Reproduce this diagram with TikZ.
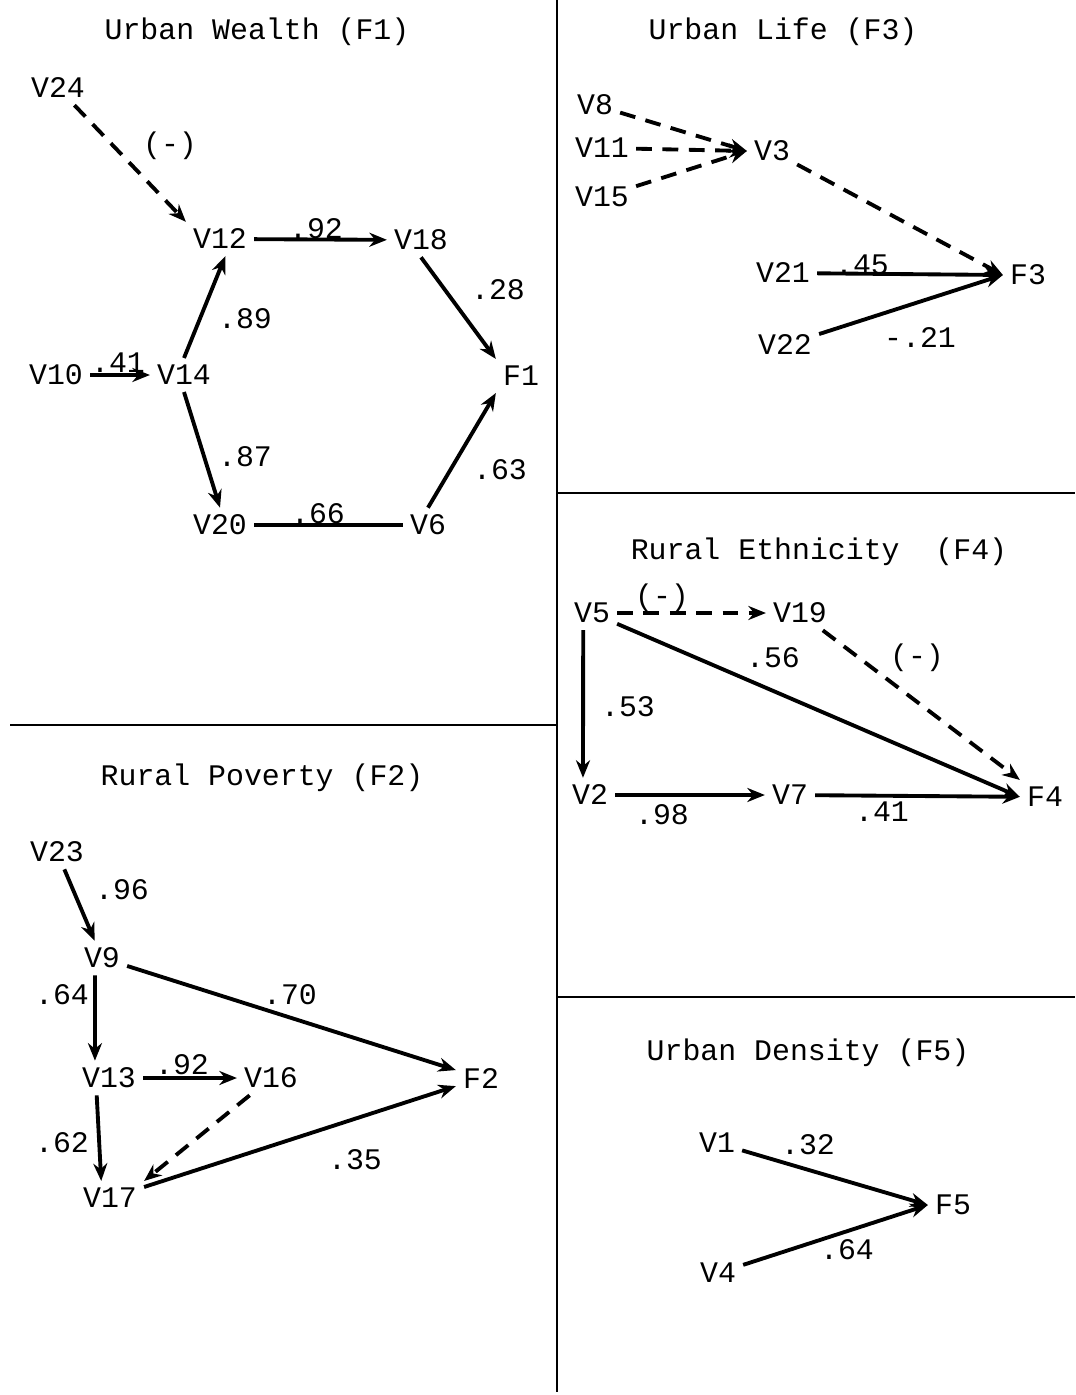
\documentclass[tikz,border=0pt]{standalone}
\usepackage{fontspec}
\setmainfont{Liberation Mono}
\usetikzlibrary{arrows.meta}
\begin{document}
\begin{tikzpicture}[x=0.02cm,y=-0.02cm,line width=2.2pt,
  every node/.style={font=\fontsize{17}{20}\selectfont,inner sep=3pt},
  arr/.style={-{Stealth[length=10pt,width=8pt]}},
  dsh/.style={arr,dash pattern=on 9pt off 6pt},
  frame/.style={line width=1.3pt}]
\useasboundingbox (0,0) rectangle (1075,1395);
% panel borders
\draw[frame] (557,0) -- (557,1392);
\draw[frame] (10,725) -- (557,725);
\draw[frame] (557,493) -- (1075,493);
\draw[frame] (557,997) -- (1075,997);

% Urban Wealth (F1)
\node (t1) at (257,32) {Urban Wealth (F1)};
\node (v24) at (58,88) {V24};
\node (v12) at (220,239) {V12};
\node (v18) at (421,240) {V18};
\node (v10) at (56,375) {V10};
\node (v14) at (184,375) {V14};
\node (f1) at (521,376) {F1};
\node (v20) at (220,525) {V20};
\node (v6) at (428,525) {V6};
\foreach \from/\to in {v12/v18, v10/v14}
  \draw[arr] (\from) -- (\to);
\draw[arr] (v14.north) -- ([xshift=3pt]v12.south);
\draw[arr] (v14.south) -- (v20.north);
\draw[arr] (v18.south) -- (f1.north west);
\draw[arr] (v6.north) -- (f1.south west);
\draw[dsh] (v24) -- (v12.north west);
\draw (v20) -- (v6);
\node (l24) at (170,146) {(-)};
\node (l92) at (316,229) {.92};
\node (l28) at (498,290) {.28};
\node (l89) at (245,319) {.89};
\node (l41) at (118,363) {.41};
\node (l87) at (245,457) {.87};
\node (l66) at (318,514) {.66};
\node (l63) at (500,470) {.63};

% Urban Life (F3)
\node (t3) at (783,32) {Urban Life (F3)};
\node (v8) at (595,105) {V8};
\node (v11) at (602,148) {V11};
\node (v15) at (602,197) {V15};
\node (v3) at (772,151) {V3};
\node (v21) at (783,273) {V21};
\node (v22) at (785,345) {V22};
\node (f3) at (1028,275) {F3};
\foreach \from in {v8, v11, v15}
  \draw[dsh] (\from) -- (v3.west);
\draw[dsh] (v3) -- (f3.west);
\foreach \from in {v21, v22}
  \draw[arr] (\from) -- (f3.west);
\node (l45) at (862,265) {.45};
\node (l21) at (920,338) {-.21};

% Rural Ethnicity (F4)
\node (t4) at (819,552) {Rural Ethnicity\ \ (F4)};
\node (v5) at (592,613) {V5};
\node (v19) at (800,613) {V19};
\node (v2) at (590,795) {V2};
\node (v7) at (790,795) {V7};
\node (f4) at (1045,797) {F4};
\draw[dsh] (v5) -- (v19);
\draw[dsh] (v19) -- (f4.north west);
\draw[arr] (v5) -- (f4.west);
\draw[arr] ([xshift=-5pt]v5.south) -- ([xshift=-4pt]v2.north);
\foreach \from/\to in {v2/v7, v7/f4}
  \draw[arr] (\from) -- (\to);
\node (l519) at (662,598) {(-)};
\node (l194) at (917,658) {(-)};
\node (l56) at (773,658) {.56};
\node (l53) at (628,707) {.53};
\node (l98) at (662,815) {.98};
\node (l741) at (882,812) {.41};

% Rural Poverty (F2)
\node (t2) at (262,778) {Rural Poverty (F2)};
\node (v23) at (57,852) {V23};
\node (v9) at (102,958) {V9};
\node (v13) at (109,1078) {V13};
\node (v16) at (271,1078) {V16};
\node (v17) at (110,1198) {V17};
\node (f2) at (481,1078) {F2};
\foreach \from/\to in {v23/v9, v9/f2, v13/v16, v17/f2}
  \draw[arr] (\from) -- (\to);
\draw[arr] ([xshift=-4pt]v9.south) -- ([xshift=-8pt]v13.north);
\draw[arr] ([xshift=-7pt]v13.south) -- ([xshift=-5pt]v17.north);
\draw[dsh] (v16) -- (v17.north east);
\node (l96) at (122,890) {.96};
\node (l64) at (62,995) {.64};
\node (l70) at (290,995) {.70};
\node (l1392) at (182,1065) {.92};
\node (l62) at (62,1143) {.62};
\node (l35) at (355,1160) {.35};

% Urban Density (F5)
\node (t5) at (808,1053) {Urban Density (F5)};
\node (v1) at (717,1143) {V1};
\node (v4) at (718,1273) {V4};
\node (f5) at (953,1205) {F5};
\foreach \from in {v1, v4}
  \draw[arr] (\from) -- (f5.west);
\node (l32) at (808,1145) {.32};
\node (l64b) at (847,1250) {.64};
\end{tikzpicture}
\end{document}
